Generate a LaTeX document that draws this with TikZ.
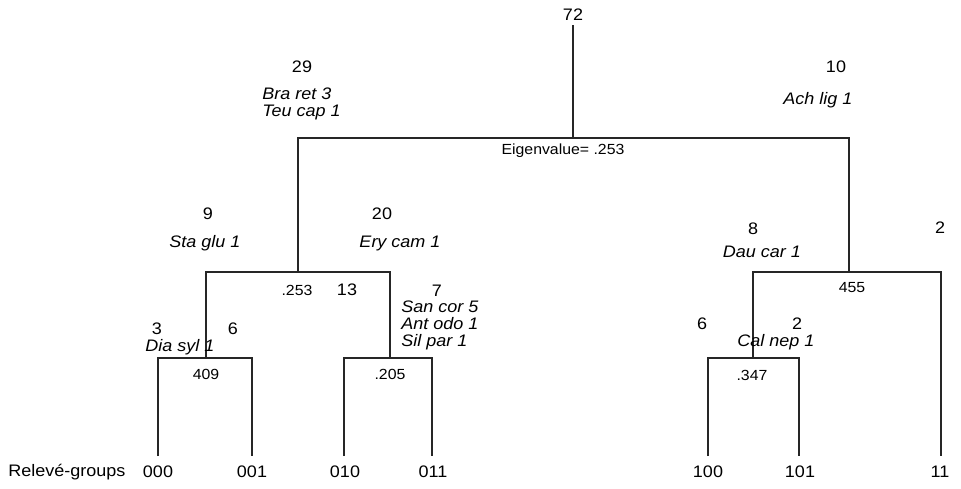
\documentclass[tikz,border=0pt]{standalone}
\usepackage{fontspec}
\setmainfont{Liberation Sans}[FakeStretch=1.08]
\usepackage{tikz}
\usetikzlibrary{positioning}

\begin{document}
\begin{tikzpicture}[x=0.75pt,y=-0.75pt,
  num/.style={inner sep=0pt,font=\fontsize{12.5}{14}\selectfont},
  spec/.style={inner sep=0pt,align=left,font=\fontsize{12.5}{12.75}\selectfont\itshape},
  eig/.style={inner sep=0pt,font=\fontsize{11}{13}\selectfont},
  branch/.style={line width=0.9pt,black!85}]
\useasboundingbox (0,0) rectangle (961,489);
% junctions of the tree
\coordinate (top) at (573,25);
\coordinate (r) at (573,138);
\coordinate (n0) at (298,272);
\coordinate (n1) at (849,272);
\coordinate (n00) at (206,358);
\coordinate (n01) at (390,358);
\coordinate (n10) at (753,358);
\coordinate (l000) at (158,456);
\coordinate (l001) at (252,456);
\coordinate (l010) at (344,456);
\coordinate (l011) at (432,456);
\coordinate (l100) at (708,456);
\coordinate (l101) at (799,456);
\coordinate (l11) at (941,456);
% branches
\draw[branch] (top) -- (r);
\draw[branch] (n0) |- (r) -| (n1);
\draw[branch] (n00) |- (n0) -| (n01);
\draw[branch] (l000) |- (n00) -| (l001);
\draw[branch] (l010) |- (n01) -| (l011);
\draw[branch] (n10) |- (n1) -| (l11);
\draw[branch] (l100) |- (n10) -| (l101);
% counts and species
\node[num] (c72) at (573,15) {72};
\node[num] (c29) at (302,67) {29};
\node[spec,anchor=west] (s29) at (262,103.5) {Bra ret 3\\Teu cap 1};
\node[num] (c10) at (836,67) {10};
\node[spec] (s10) at (818,100) {Ach lig 1};
\node[eig] (e0) at (563,151) {Eigenvalue= .253};
\node[num] (c9) at (208,214) {9};
\node[spec] (s9) at (205,243) {Sta glu 1};
\node[num] (c20) at (382,214) {20};
\node[spec] (s20) at (400,243) {Ery cam 1};
\node[eig] (e1) at (297,290) {.253};
\node[num] (c13) at (347,290) {13};
\node[num] (c7) at (437,291) {7};
\node[spec,anchor=west] (s7) at (401,325) {San cor 5\\Ant odo 1\\Sil par 1};
\node[num] (c3) at (157,329) {3};
\node[spec] (s3) at (180,347) {Dia syl 1};
\node[num] (c6a) at (233,329) {6};
\node[eig] (e2) at (206,374) {409};
\node[eig] (e3) at (390,374) {.205};
\node[num] (c8) at (753,229) {8};
\node[spec] (s8) at (762,252) {Dau car 1};
\node[num] (c2a) at (940,228) {2};
\node[eig] (e4) at (852,288) {455};
\node[num] (c6b) at (702,324) {6};
\node[num] (c2b) at (797,324) {2};
\node[spec] (s2b) at (776,342) {Cal nep 1};
\node[eig] (e5) at (752,375) {.347};
% releve groups
\node[num,anchor=west] (rg) at (8,472) {Relevé-groups};
\node[num] (g000) at (158,472) {000};
\node[num] (g001) at (252,472) {001};
\node[num] (g010) at (345,472) {010};
\node[num] (g011) at (433,472) {011};
\node[num] (g100) at (708,472) {100};
\node[num] (g101) at (800,472) {101};
\node[num] (g11) at (940,472) {11};
\end{tikzpicture}
\end{document}
